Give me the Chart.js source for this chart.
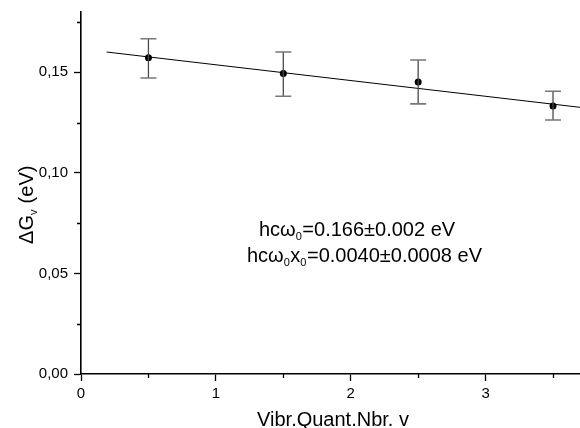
<!DOCTYPE html>
<html>
<head>
<meta charset="utf-8">
<script src="https://cdn.jsdelivr.net/npm/chart.js@4/dist/chart.umd.min.js"></script>
<style>
html,body{margin:0;padding:0;background:#fff;}
canvas{display:block;}
</style>
</head>
<body>
<canvas id="c" width="580" height="428"></canvas>
<script>
// ---- data ----
const vibNumbers = [0.5, 1.5, 2.5, 3.5];            // vibrational quantum number v
const deltaG     = [0.1573, 0.1494, 0.1452, 0.1333]; // ΔG_v (eV)
const errLow     = [0.1472, 0.1381, 0.1343, 0.1263]; // lower error bar ends
const errHigh    = [0.1667, 0.1601, 0.1561, 0.1406]; // upper error bar ends
const fitX       = [0.19, 3.7];                     // linear fit end points (x)
const fitY       = [0.1601, 0.1326];                // linear fit end points (y)
const yTickValues = [0, 0.05, 0.10, 0.15];
const xTickValues = [0, 1, 2, 3];
const yMinor = [0.025, 0.075, 0.125, 0.175];
const xMinor = [0.5, 1.5, 2.5, 3.5];

const FONT = '"Liberation Sans", Arial, sans-serif';

const pointData = vibNumbers.map((x, i) => ({x: x, y: deltaG[i]}));
const fitData = fitX.map((x, i) => ({x: x, y: fitY[i]}));

const extras = {
  id: 'extras',
  afterDatasetsDraw(chart) {
    const ctx = chart.ctx;
    const xs = chart.scales.x, ys = chart.scales.y;
    ctx.save();
    vibNumbers.forEach((v, i) => {
      const px = xs.getPixelForValue(v);
      const top = ys.getPixelForValue(errHigh[i]);
      const bot = ys.getPixelForValue(errLow[i]);
      ctx.strokeStyle = '#4a4a4a';
      ctx.lineWidth = 1.3;
      ctx.beginPath();
      ctx.moveTo(px, top); ctx.lineTo(px, bot);
      ctx.stroke();
      ctx.strokeStyle = '#777';
      ctx.lineWidth = 1.6;
      ctx.beginPath();
      ctx.moveTo(px - 8, top); ctx.lineTo(px + 8, top);
      ctx.moveTo(px - 8, bot); ctx.lineTo(px + 8, bot);
      ctx.stroke();
    });
    ctx.restore();
  },
  afterDraw(chart) {
    const ctx = chart.ctx;
    const xs = chart.scales.x, ys = chart.scales.y;
    const ca = chart.chartArea;
    ctx.save();
    ctx.strokeStyle = '#000';
    ctx.lineWidth = 1.3;
    ctx.beginPath();
    yMinor.forEach(v => {
      const py = Math.round(ys.getPixelForValue(v)) + 0.5;
      ctx.moveTo(ca.left - 4, py); ctx.lineTo(ca.left, py);
    });
    xMinor.forEach(v => {
      const px = Math.round(xs.getPixelForValue(v)) + 0.5;
      ctx.moveTo(px, ca.bottom); ctx.lineTo(px, ca.bottom + 4);
    });
    ctx.stroke();

    ctx.fillStyle = '#000';
    function runs(parts, x, y) {
      let cx = x;
      parts.forEach(p => {
        const sub = p[1];
        ctx.font = (sub ? '11px ' : '20px ') + FONT;
        ctx.fillText(p[0], cx, y + (sub ? 4 : 0));
        cx += ctx.measureText(p[0]).width + (sub ? 0.5 : 0);
      });
      return cx - x;
    }
    ctx.textBaseline = 'alphabetic';
    ctx.textAlign = 'left';
    runs([['hcω', false], ['0', true], ['=0.166±0.002 eV', false]], 259, 236);
    runs([['hcω', false], ['0', true], ['x', false], ['0', true], ['=0.0040±0.0008 eV', false]], 247, 262);

    ctx.font = '20px ' + FONT;
    ctx.textAlign = 'center';
    ctx.fillText('Vibr.Quant.Nbr. v', 333, 426);

    ctx.translate(33, 205);
    ctx.rotate(-Math.PI / 2);
    ctx.textAlign = 'left';
    const parts = [['ΔG', false], ['v', true], [' (eV)', false]];
    let w = 0;
    parts.forEach(p => { ctx.font = (p[1] ? '11px ' : '20px ') + FONT; w += ctx.measureText(p[0]).width; });
    runs(parts, -w / 2, 0);
    ctx.restore();
  }
};

new Chart(document.getElementById('c'), {
  type: 'scatter',
  data: {
    datasets: [
      {
        label: 'fit',
        data: fitData,
        showLine: true,
        borderColor: '#000',
        borderWidth: 1,
        pointRadius: 0,
        fill: false
      },
      {
        label: 'ΔG',
        data: pointData,
        showLine: false,
        pointRadius: 3.5,
        pointBackgroundColor: '#000',
        pointBorderColor: '#000',
        pointBorderWidth: 0
      }
    ]
  },
  options: {
    responsive: false,
    animation: false,
    events: [],
    layout: { autoPadding: false, padding: { top: 12, right: 0, left: 0, bottom: 0 } },
    plugins: { legend: { display: false }, tooltip: { enabled: false } },
    scales: {
      x: {
        type: 'linear',
        min: 0,
        max: 3.7,
        afterFit(s) { s.height = 54; s.paddingRight = 0; s.paddingLeft = 0; },
        afterBuildTicks(s) { s.ticks = xTickValues.map(v => ({value: v})); },
        ticks: {
          color: '#000',
          font: { family: FONT, size: 15 },
          padding: 4,
          maxRotation: 0,
          callback: v => String(v)
        },
        grid: { drawOnChartArea: false, drawTicks: true, tickLength: 7, tickColor: '#000', tickWidth: 1.3 },
        border: { display: true, color: '#000', width: 1.6 }
      },
      y: {
        type: 'linear',
        min: 0,
        max: 0.18,
        afterFit(s) { s.width = 81; s.paddingTop = 0; s.paddingBottom = 0; },
        afterBuildTicks(s) { s.ticks = yTickValues.map(v => ({value: v})); },
        ticks: {
          color: '#000',
          font: { family: FONT, size: 15 },
          padding: 6,
          callback: v => v.toFixed(2).replace('.', ',')
        },
        grid: { drawOnChartArea: false, drawTicks: true, tickLength: 7, tickColor: '#000', tickWidth: 1.3 },
        border: { display: true, color: '#000', width: 1.6 }
      }
    }
  },
  plugins: [extras]
});
</script>
</body>
</html>
